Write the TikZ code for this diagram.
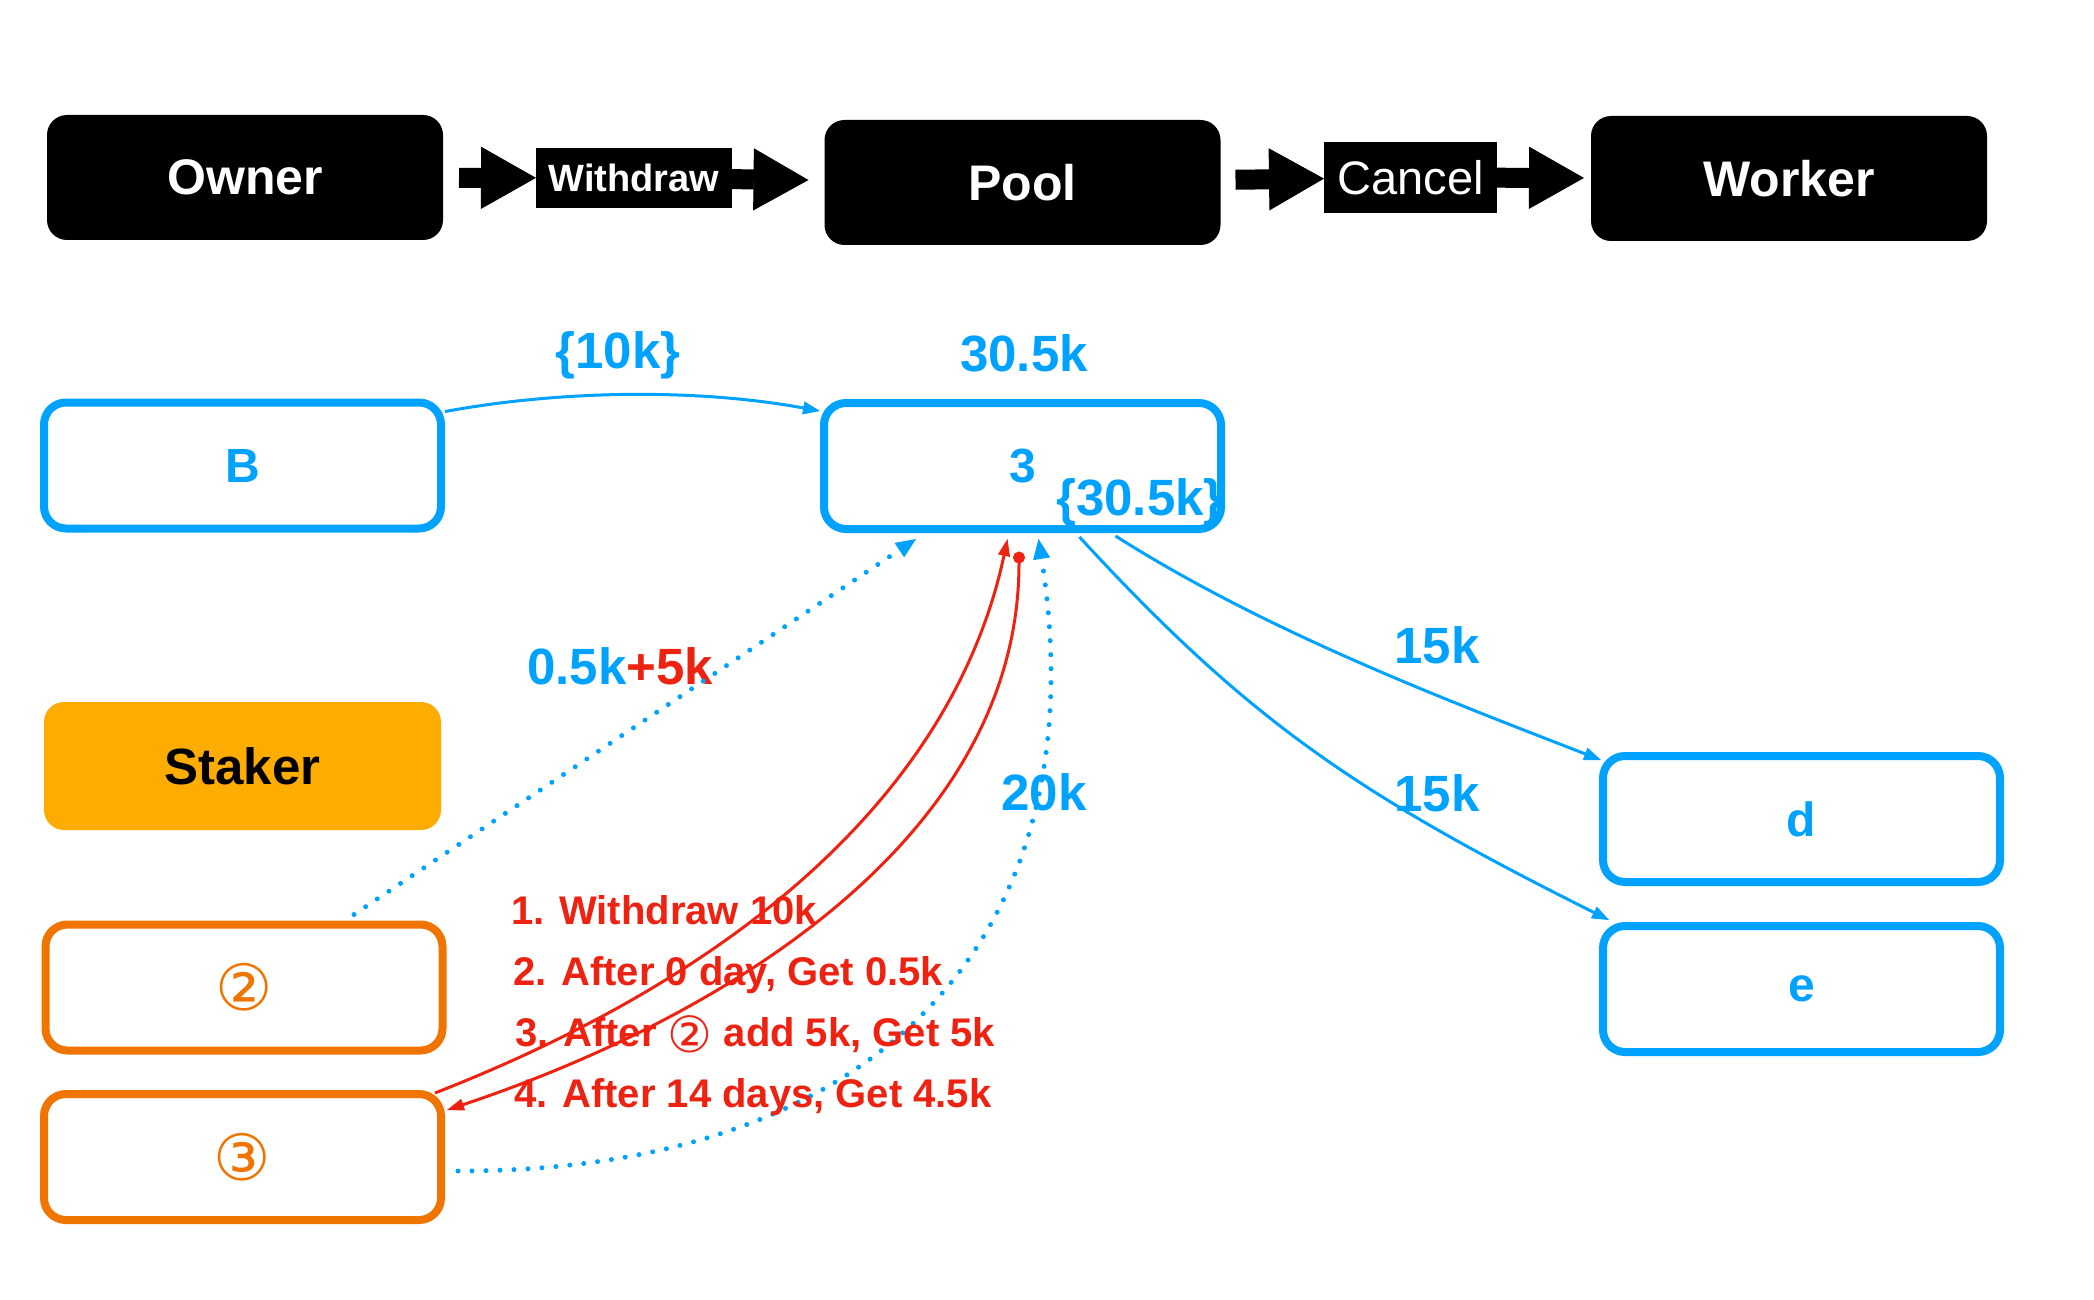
\documentclass[tikz,border=0pt]{standalone}
\usepackage{fontspec}
\setmainfont{Liberation Sans}
\newfontfamily\symfont{DejaVu Sans}
\usetikzlibrary{arrows.meta,calc}
\definecolor{cblue}{RGB}{0,162,255}
\definecolor{corange}{RGB}{240,116,0}
\definecolor{cstaker}{RGB}{255,172,0}
\definecolor{cred}{RGB}{238,34,17}
\begin{document}
\begin{tikzpicture}[x=1pt,y=-1pt,
  blackbox/.style={fill=black, rounded corners=20pt, minimum width=396pt, minimum height=125pt,
    text=white, font=\fontsize{50}{60}\selectfont\bfseries, inner sep=0pt, outer sep=0pt},
  bluebox/.style={draw=cblue, line width=8pt, rounded corners=22pt, minimum width=397pt, minimum height=126pt,
    text=cblue, font=\fontsize{48}{58}\selectfont\bfseries, inner sep=0pt},
  orangebox/.style={draw=corange, line width=8pt, rounded corners=22pt, minimum width=397pt, minimum height=126pt,
    text=corange, font=\fontsize{64}{70}\selectfont\symfont, inner sep=0pt},
  stakerbox/.style={fill=cstaker, rounded corners=20pt, minimum width=397pt, minimum height=128pt,
    text=black, font=\fontsize{51}{60}\selectfont\bfseries, inner sep=0pt},
  arrowlabel/.style={fill=black, text=white, inner sep=0pt, outer sep=0pt},
  bigarrow/.style={line width=20pt, draw=black, -{Triangle[length=55pt,width=62pt,line width=1pt]}},
  bluearrow/.style={draw=cblue, line width=3pt, -{Triangle[length=17pt,width=13pt,line width=1pt]}},
  dotarrow/.style={draw=cblue, line width=5pt, line cap=round, dash pattern=on 0pt off 14pt,
    -{Triangle[length=20pt,width=17pt,line width=1pt]}},
  redarrow/.style={draw=cred, line width=3pt, -{Triangle[length=17pt,width=12pt,line width=1pt]}},
  bluelabel/.style={text=cblue, font=\fontsize{51}{60}\selectfont\bfseries, inner sep=0pt},
  redtext/.style={text=cred, font=\fontsize{40}{48}\selectfont\bfseries, inner sep=0pt, anchor=base west},
]
\useasboundingbox (0,0) rectangle (2094,1300);
\fill[white] (0,0) rectangle (2094,1300);

% top row
\node[blackbox] (owner) at (245,177.5) {Owner};
\node[blackbox] (pool) at (1022.5,182.5) {Pool};
\node[blackbox] (worker) at (1789,178.5) {Worker};
\node[arrowlabel, minimum width=196pt, minimum height=60pt, font=\fontsize{38}{46}\selectfont\bfseries] (wd) at (634,178) {Withdraw};
\node[arrowlabel, minimum width=173pt, minimum height=71pt, font=\fontsize{47}{56}\selectfont] (cn) at (1410.5,177.5) {Cancel};
\draw[bigarrow, shorten <=16pt] (owner) -- (wd);
\draw[bigarrow, shorten >=16pt] (wd) -- (pool);
\draw[bigarrow, shorten <=15pt] (pool) -- (cn);
\draw[bigarrow, shorten >=7pt] (cn) -- (worker);

% boxes
\node[bluebox] (B) at (242.5,465.5) {B};
\node[bluebox] (b3) at (1022.5,466) {3};
\node[bluebox] (d) at (1801.5,819) {d};
\node[bluebox] (e) at (1801.5,989) {e};
\node[stakerbox] (staker) at (242.5,766) {Staker};
\node[orangebox] (o2) at (244,987.5) {②};
\node[orangebox] (o3) at (242.5,1157) {③};

% labels
\node[bluelabel] (l10k) at (618,355) {\{10k\}};
\node[bluelabel] (l305) at (1024,353) {30.5k};
\node[bluelabel] (l305b) at (1140,502) {\{30.5k\}};
\node[bluelabel] (l15a) at (1437,645) {15k};
\node[bluelabel] (l15b) at (1437,793) {15k};
\node[bluelabel] (l20k) at (1044,792) {20k};
\node[bluelabel] (lsum) at (620,666) {0.5k\textcolor{cred}{+5k}};

% blue connectors
\draw[bluearrow] ($(B.north east)+(0,13)$) .. controls +(120,-22) and +(-120,-22) .. ($(b3.north west)+(0,12)$);
\draw[bluearrow] ($(b3.south)+(93,3)$) .. controls +(150,95) and +(-160,-62) .. ($(d.north west)+(2,8)$);
\draw[bluearrow] ($(b3.south)+(57,4)$) .. controls +(170,185) and +(-250,-125) .. ($(e.north west)+(10,-2)$);

% dotted connectors
\draw[dotarrow] ($(o2.north)+(110,-6)$) -- ($(b3.south west)+(96,6)$);
\draw[dotarrow] ($(o3.east)+(13,14)$) .. controls +(440,0) and +(60,380) .. ($(b3.south)+(16,6)$);

% red connectors
\draw[redarrow] ($(o3.north east)+(-10,3)$) .. controls +(345,-135) and +(-48,225) .. ($(b3.south)+(-15,6)$);
\draw[redarrow, {Circle[length=12pt,line width=1pt]}-{Triangle[length=17pt,width=12pt,line width=1pt]}]
  ($(b3.south)+(-3.5,18.5)$) .. controls +(0,290) and +(270,-90) .. ($(o3.north east)+(2,20)$);

% red notes
\node[redtext] (n1) at (511,924) {1. Withdraw 10k};
\node[redtext] (n2) at (513,985) {2. After 0 day, Get 0.5k};
\node[redtext] (n3) at (515,1046) {3. After \raisebox{-6pt}{\symfont\fontsize{50}{56}\selectfont\mdseries ②} add 5k, Get 5k};
\node[redtext] (n4) at (514,1107) {4. After 14 days, Get 4.5k};
\end{tikzpicture}
\end{document}
